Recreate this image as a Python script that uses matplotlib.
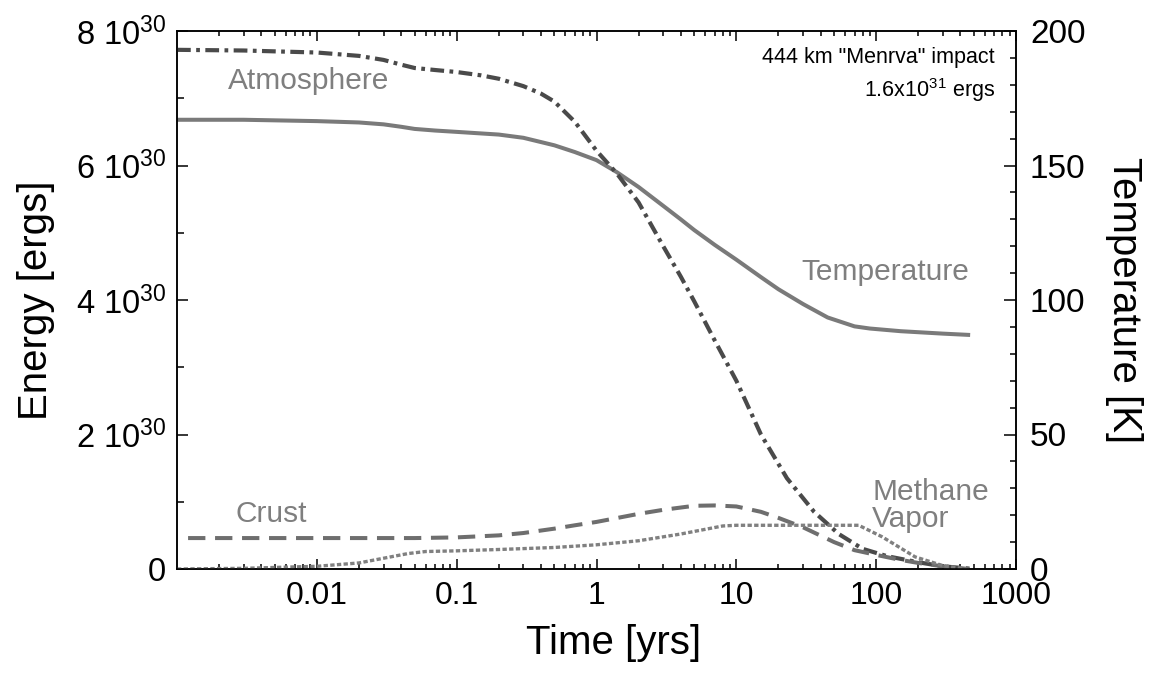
import matplotlib
matplotlib.use("Agg")
import matplotlib.pyplot as plt
from matplotlib.ticker import LogLocator, NullFormatter, MultipleLocator

plt.rcParams['font.family'] = ['Liberation Sans', 'DejaVu Sans']
plt.rcParams['mathtext.fontset'] = 'custom'
plt.rcParams['mathtext.rm'] = 'Liberation Sans'
plt.rcParams['mathtext.it'] = 'Liberation Sans:italic'
plt.rcParams['mathtext.bf'] = 'Liberation Sans:bold'

# ---- data (time in years, energy in 1e30 ergs, temperature in K) ----
atm_t = [0.001, 0.003, 0.01, 0.02, 0.03, 0.04, 0.05, 0.07, 0.1, 0.15, 0.2, 0.3, 0.4, 0.5,
         0.7, 1.0, 1.4, 2.0, 3.0, 4.0, 5.0, 7.0, 10, 15, 23, 36, 54, 80, 120, 200, 300, 500]
atm_e = [7.72, 7.71, 7.68, 7.63, 7.57, 7.50, 7.45, 7.42, 7.39, 7.34, 7.29, 7.18, 7.07, 6.95,
         6.65, 6.22, 5.88, 5.45, 4.80, 4.35, 3.98, 3.40, 2.80, 2.00, 1.35, 0.85, 0.52, 0.30,
         0.19, 0.10, 0.04, 0.0]

temp_t = [0.001, 0.003, 0.01, 0.02, 0.03, 0.04, 0.05, 0.07, 0.1, 0.2, 0.3, 0.5, 0.7, 1.0,
          1.4, 2.0, 3.0, 4.0, 5.0, 7.0, 10, 15, 20, 30, 45, 70, 90, 150, 300, 470]
temp_k = [167, 167, 166.5, 166, 165.3, 164.4, 163.6, 163, 162.5, 161.5, 160.3, 157.5, 155, 152,
          147.5, 142, 135, 130, 126, 120.5, 115, 108.5, 104, 98.5, 93.5, 90.2, 89.4, 88.4,
          87.5, 87]

crust_t = [0.0012, 0.01, 0.05, 0.1, 0.2, 0.3, 0.5, 0.7, 1.0, 1.5, 2.0, 3.0, 5.0, 7.0, 10,
           15, 20, 30, 50, 70, 100, 145, 200, 300, 460]
crust_e = [0.46, 0.46, 0.46, 0.47, 0.50, 0.535, 0.60, 0.65, 0.70, 0.77, 0.82, 0.88, 0.94, 0.945,
           0.93, 0.85, 0.76, 0.62, 0.40, 0.28, 0.21, 0.14, 0.09, 0.04, 0.0]

meth_t = [0.001, 0.003, 0.01, 0.02, 0.03, 0.045, 0.06, 0.1, 0.2, 0.5, 1.0, 2.0, 4.0, 8.0,
          10, 30, 75, 110, 190, 300, 440]
meth_e = [0.0, 0.01, 0.04, 0.09, 0.16, 0.23, 0.26, 0.27, 0.29, 0.32, 0.36, 0.42, 0.52, 0.64,
          0.65, 0.65, 0.65, 0.48, 0.18, 0.05, 0.0]

x_ticks = [0.01, 0.1, 1, 10, 100, 1000]
x_tick_labels = ['0.01', '0.1', '1', '10', '100', '1000']
e_ticks = [0, 2, 4, 6, 8]
e_tick_labels = ['0', r'2 10$^{30}$', r'4 10$^{30}$', r'6 10$^{30}$', r'8 10$^{30}$']
t_ticks = [0, 50, 100, 150, 200]
t_tick_labels = ['0', '50', '100', '150', '200']

W, H = 1157, 673
fig = plt.figure(figsize=(W / 100, H / 100), dpi=100)
L, R, T, B = 177, 1016, 31, 569
ax = fig.add_axes([L / W, 1 - B / H, (R - L) / W, (B - T) / H])
ax2 = ax.twinx()
ax.set_zorder(ax2.get_zorder() + 1)
ax.patch.set_visible(False)

# temperature (right axis)
ax2.plot(temp_t, temp_k, color='#7a7a7a', lw=2.9, solid_capstyle='butt')
# energy lines (left axis)
ax.plot(atm_t, atm_e, color='#4a4a4a', lw=3.0, dashes=(3.3, 1.3, 0.9, 1.3))
ax.plot(crust_t, crust_e, color='#6e6e6e', lw=2.9, dashes=(4.3, 2.4))
ax.plot(meth_t, meth_e, color='#808080', lw=2.4, dashes=(1.3, 0.7))

ax.set_xscale('log')
ax.set_xlim(0.001, 1000)
ax.set_ylim(0, 8)
ax2.set_ylim(0, 200)

ax.set_xticks(x_ticks)
ax.set_xticklabels(x_tick_labels)
ax.xaxis.set_minor_locator(LogLocator(base=10, subs=range(2, 10), numticks=20))
ax.xaxis.set_minor_formatter(NullFormatter())
ax.set_yticks(e_ticks)
ax.set_yticklabels(e_tick_labels)
ax.yaxis.set_minor_locator(MultipleLocator(1))
ax2.set_yticks(t_ticks)
ax2.set_yticklabels(t_tick_labels)
ax2.yaxis.set_minor_locator(MultipleLocator(10))

ax.tick_params(axis='x', which='both', direction='in', top=True, bottom=True,
               labelsize=23, pad=9, width=1.1)
ax.tick_params(axis='x', which='major', length=7.5)
ax.tick_params(axis='x', which='minor', length=3.5)
ax.tick_params(axis='y', which='both', direction='in', left=True, right=False,
               labelsize=23.5, pad=8, width=1.1)
ax.tick_params(axis='y', which='major', length=8)
ax.tick_params(axis='y', which='minor', length=5)
ax2.tick_params(axis='y', which='both', direction='in', right=True, left=False,
                labelsize=24, pad=10, width=1.1)
ax2.tick_params(axis='y', which='major', length=9)
ax2.tick_params(axis='y', which='minor', length=4.5)
for a in (ax, ax2):
    for s in a.spines.values():
        s.set_linewidth(1.1)

ax.set_xlabel('Time [yrs]', fontsize=29)
ax.xaxis.set_label_coords(0.52, -0.102)
ax.set_ylabel('Energy [ergs]', fontsize=29)
ax.yaxis.set_label_coords(-0.146, 0.5)
ax2.set_ylabel('Temperature [K]', fontsize=29, rotation=270, va='center')
ax2.yaxis.set_label_coords(1.129, 0.5)

lab_col = '#7f7f7f'
ax.text(0.0023, 7.14, 'Atmosphere', color=lab_col, fontsize=21.5, ha='left', va='baseline')
ax.text(0.00263, 0.70, 'Crust', color=lab_col, fontsize=21.5, ha='left', va='baseline')
ax.text(461, 4.30, 'Temperature', color=lab_col, fontsize=21.5, ha='right', va='baseline')
ax.text(93.6, 1.03, 'Methane', color=lab_col, fontsize=21.5, ha='left', va='baseline')
ax.text(93.6, 0.62, 'Vapor', color=lab_col, fontsize=21.5, ha='left', va='baseline')

ax.text(0.975, 0.9405, '444 km "Menrva" impact', transform=ax.transAxes,
        fontsize=15.5, ha='right', va='baseline')
ax.text(0.975, 0.877, r'1.6x10$^{31}$ ergs', transform=ax.transAxes,
        fontsize=15.5, ha='right', va='baseline')

fig.savefig('out.png', dpi=100)
